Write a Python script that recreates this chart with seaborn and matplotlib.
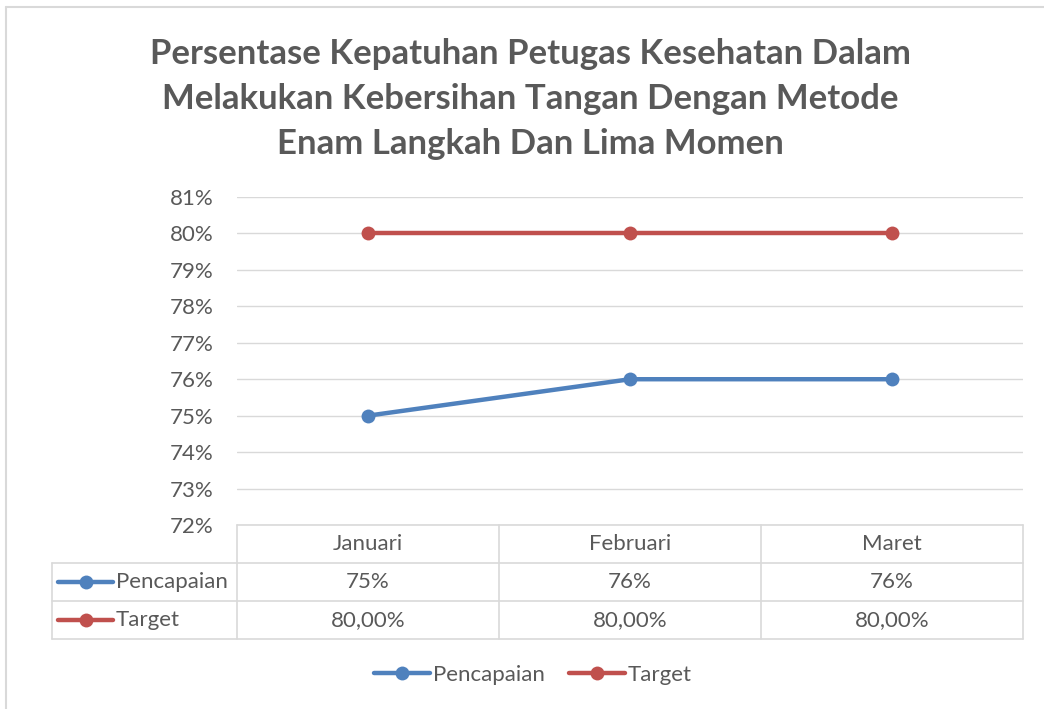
import matplotlib
matplotlib.use("Agg")
import matplotlib.pyplot as plt
from matplotlib.lines import Line2D
import pandas as pd
import seaborn as sns

# data
months = ["Januari", "Februari", "Maret"]
pencapaian = [0.75, 0.76, 0.76]
target = [0.80, 0.80, 0.80]
pencapaian_labels = ["75%", "76%", "76%"]
target_labels = ["80,00%", "80,00%", "80,00%"]
series_names = ["Pencapaian", "Target"]
y_ticks = [0.72, 0.73, 0.74, 0.75, 0.76, 0.77, 0.78, 0.79, 0.80, 0.81]

title = ("Persentase Kepatuhan Petugas Kesehatan Dalam\n"
         "Melakukan Kebersihan Tangan Dengan Metode\n"
         "Enam Langkah Dan Lima Momen")

colors = {"Pencapaian": "#4f81bd", "Target": "#c0504d"}
text_color = "#595959"
grid_color = "#d9d9d9"

df = pd.DataFrame({
    "Bulan": months * 2,
    "Nilai": pencapaian + target,
    "Seri": ["Pencapaian"] * 3 + ["Target"] * 3,
})

sns.set_theme(style="white")
plt.rcParams["font.family"] = ["Lato", "DejaVu Sans"]

W, H = 1044, 709
fig = plt.figure(figsize=(W / 100, H / 100), dpi=100)
fig.patch.set_facecolor("white")

# axes box in pixel terms
x0, x1, y_top, y_bot = 237, 1023, 197, 525
ax = fig.add_axes([x0 / W, 1 - y_bot / H, (x1 - x0) / W, (y_bot - y_top) / H])

sns.lineplot(data=df, x="Bulan", y="Nilai", hue="Seri", palette=colors,
             marker="o", markersize=10, markeredgewidth=0, linewidth=3.2,
             sort=False, legend=False, ax=ax, zorder=3)

ax.set_xlim(-0.5, 2.5)
ax.set_ylim(0.72, 0.81)
ax.set_yticks(y_ticks)
ax.set_yticklabels([f"{round(v * 100)}%" for v in y_ticks], color=text_color, fontsize=16)
ax.tick_params(axis="y", length=0, pad=17)
ax.set_xticks([])
ax.set_xlabel("")
ax.set_ylabel("")
ax.grid(axis="y", color=grid_color, linewidth=1)
for s in ax.spines.values():
    s.set_visible(False)

# data table under the plot
row_h = 38 / (y_bot - y_top)
left_x = (52 - x0) / (x1 - x0)
lkw = dict(transform=ax.transAxes, clip_on=False, color=grid_color, linewidth=1.2)
# horizontal lines
ax.plot([0, 1], [0, 0], **lkw)
for k in (1, 2, 3):
    ax.plot([left_x, 1], [-k * row_h, -k * row_h], **lkw)
# vertical lines
ax.plot([left_x, left_x], [-row_h, -3 * row_h], **lkw)
for c in range(4):
    ax.plot([c / 3, c / 3], [0, -3 * row_h], **lkw)

for i, m in enumerate(months):
    ax.text((i + 0.5) / 3, -0.5 * row_h, m, transform=ax.transAxes,
            ha="center", va="center", fontsize=16, color=text_color)
for r, (name, labels) in enumerate(zip(series_names, [pencapaian_labels, target_labels])):
    yc = -(r + 1.5) * row_h
    for i, lab in enumerate(labels):
        ax.text((i + 0.5) / 3, yc, lab, transform=ax.transAxes,
                ha="center", va="center", fontsize=16, color=text_color)
    lx0 = (58 - x0) / (x1 - x0)
    lx1 = (113 - x0) / (x1 - x0)
    ax.plot([lx0, lx1], [yc, yc], transform=ax.transAxes, clip_on=False,
            color=colors[name], linewidth=3.2, solid_capstyle="round")
    ax.plot([(lx0 + lx1) / 2], [yc], transform=ax.transAxes, clip_on=False,
            marker="o", markersize=10, markeredgewidth=0, color=colors[name])
    ax.text((116 - x0) / (x1 - x0), yc, name, transform=ax.transAxes,
            ha="left", va="center", fontsize=16, color=text_color)

# title
fig.text(530 / W, 1 - 99 / H, title, ha="center", va="center", fontsize=25,
         fontweight="bold", color=text_color, linespacing=1.5)

# legend
handles = [Line2D([], [], color=colors[n], linewidth=3.2, marker="o", markersize=10,
                  markeredgewidth=0, solid_capstyle="round") for n in series_names]
leg = fig.legend(handles, series_names, loc="center", bbox_to_anchor=(533 / W, 1 - 675 / H),
                 ncol=2, frameon=False, fontsize=16, handlelength=2.5, handletextpad=0.15,
                 columnspacing=1.1)
for t in leg.get_texts():
    t.set_color(text_color)

# chart border (top and left edges visible)
fig.add_artist(Line2D([6 / W, 1], [1 - 7 / H, 1 - 7 / H], transform=fig.transFigure,
                      color=grid_color, linewidth=1.5))
fig.add_artist(Line2D([6 / W, 6 / W], [1 - 7 / H, 0], transform=fig.transFigure,
                      color=grid_color, linewidth=1.5))

fig.savefig("out.png", dpi=100, facecolor="white")
